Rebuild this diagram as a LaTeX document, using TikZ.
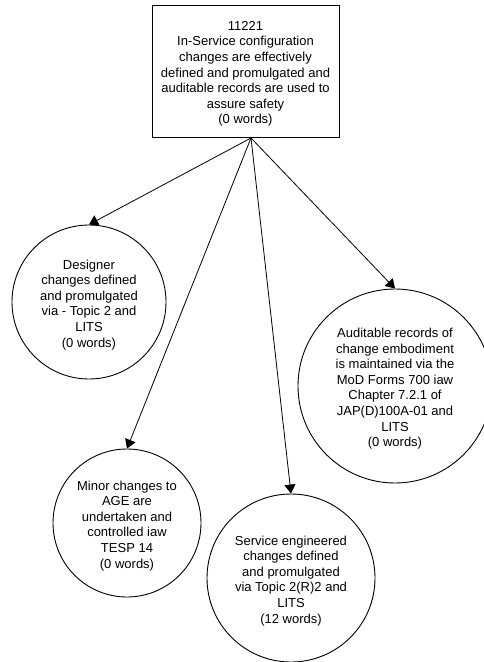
\documentclass[tikz,border=0pt]{standalone}
\usepackage{fontspec}
\setmainfont{Liberation Sans}
\usetikzlibrary{arrows.meta}

% taller first line so each text block sits a little lower in its shape
\newcommand\firststrut{\rule{0pt}{15pt}}

\begin{document}
\begin{tikzpicture}[x=1pt,y=-1pt,
  every node/.style={font=\fontsize{13}{15.6}\selectfont, align=center, inner sep=0pt},
  goalbox/.style={draw, line width=0.9pt, minimum width=187pt, minimum height=132pt},
  subgoal/.style={draw, circle, line width=0.9pt},
  link/.style={line width=0.8pt, -{Triangle[length=9pt,width=11pt]}}
]
\useasboundingbox (0,0) rectangle (483,662);

% top-level goal
\node[goalbox] (top) at (245.5,71) {\firststrut 11221\\In-Service configuration\\changes are effectively\\defined and promulgated and\\auditable records are used to\\assure safety\\(0 words)};
\coordinate (src) at (251,138);

% supporting claims
\node[subgoal, minimum size=154pt] (des) at (89,302) {\firststrut Designer\\changes defined\\and promulgated\\via - Topic 2 and\\LITS\\(0 words)};
\node[subgoal, minimum size=194pt] (aud) at (395,386) {\firststrut Auditable records of\\change embodiment\\is maintained via the\\MoD Forms 700 iaw\\Chapter 7.2.1 of\\JAP(D)100A-01 and\\LITS\\(0 words)};
\node[subgoal, minimum size=148pt] (minor) at (127,523) {\firststrut Minor changes to\\AGE are\\undertaken and\\controlled iaw\\TESP 14\\(0 words)};
\node[subgoal, minimum size=168pt] (svc) at (291,578) {\firststrut Service engineered\\changes defined\\and promulgated\\via Topic 2(R)2 and\\LITS\\(12 words)};

% connectors
\draw[link] (src) -- (des.north);
\draw[link] (src) -- (minor.north);
\draw[link] (src) -- (svc.north);
\draw[link] (src) -- (aud.north);
\end{tikzpicture}
\end{document}
